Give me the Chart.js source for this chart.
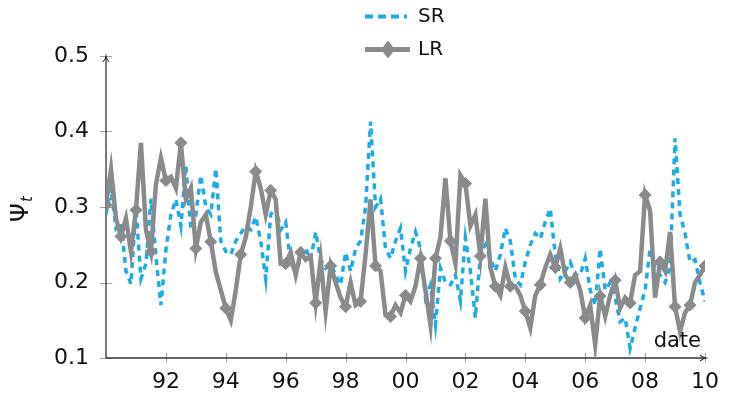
<!DOCTYPE html>
<html>
<head>
<meta charset="utf-8">
<script src="https://cdn.jsdelivr.net/npm/chart.js@4"></script>
<style>
  html, body { margin: 0; padding: 0; background: #fff; }
  canvas { display: block; }
</style>
</head>
<body>
<canvas id="chart" width="730" height="398"></canvas>
<script>
// sampling grid: every two months, 1990 to 2010
const dates = Array.from({ length: 121 }, (_, i) => 1990 + i / 6);

const srValues = [
  0.290, 0.325, 0.272, 0.280, 0.215, 0.198,
  0.300, 0.205, 0.225, 0.311, 0.235, 0.170,
  0.243, 0.290, 0.310, 0.275, 0.355, 0.270,
  0.290, 0.342, 0.300, 0.290, 0.351, 0.255,
  0.241, 0.237, 0.255, 0.265, 0.275, 0.270,
  0.287, 0.255, 0.205, 0.290, 0.300, 0.270,
  0.280, 0.225, 0.215, 0.230, 0.245, 0.230,
  0.267, 0.230, 0.219, 0.225, 0.210, 0.197,
  0.240, 0.215, 0.245, 0.255, 0.300, 0.413,
  0.300, 0.311, 0.245, 0.232, 0.255, 0.272,
  0.215, 0.245, 0.267, 0.245, 0.180, 0.197,
  0.144, 0.219, 0.200, 0.197, 0.210, 0.176,
  0.259, 0.215, 0.153, 0.237, 0.250, 0.232,
  0.215, 0.237, 0.272, 0.255, 0.205, 0.197,
  0.227, 0.250, 0.265, 0.258, 0.280, 0.298,
  0.237, 0.205, 0.215, 0.227, 0.210, 0.210,
  0.232, 0.190, 0.170, 0.245, 0.190, 0.200,
  0.180, 0.148, 0.153, 0.113, 0.140, 0.166,
  0.190, 0.245, 0.219, 0.210, 0.200, 0.220,
  0.391, 0.290, 0.265, 0.227, 0.230, 0.200,
  0.175
];

const lrValues = [
  0.303, 0.350, 0.285, 0.261, 0.285, 0.241,
  0.296, 0.385, 0.270, 0.241, 0.330, 0.365,
  0.335, 0.340, 0.325, 0.385, 0.310, 0.325,
  0.245, 0.280, 0.290, 0.254, 0.214, 0.190,
  0.166, 0.150, 0.190, 0.237, 0.260, 0.300,
  0.347, 0.325, 0.290, 0.322, 0.310, 0.225,
  0.225, 0.240, 0.210, 0.240, 0.230, 0.235,
  0.173, 0.230, 0.162, 0.222, 0.200, 0.180,
  0.168, 0.200, 0.170, 0.175, 0.237, 0.310,
  0.222, 0.215, 0.157, 0.155, 0.170, 0.160,
  0.183, 0.175, 0.195, 0.232, 0.190, 0.144,
  0.232, 0.260, 0.338, 0.255, 0.225, 0.342,
  0.331, 0.275, 0.290, 0.235, 0.311, 0.220,
  0.195, 0.183, 0.220, 0.195, 0.195, 0.183,
  0.162, 0.140, 0.183, 0.197, 0.220, 0.237,
  0.220, 0.245, 0.210, 0.200, 0.210, 0.190,
  0.153, 0.170, 0.118, 0.182, 0.155, 0.183,
  0.203, 0.166, 0.180, 0.173, 0.210, 0.215,
  0.316, 0.295, 0.180, 0.227, 0.215, 0.267,
  0.168, 0.135, 0.160, 0.170, 0.200, 0.210,
  0.222
];

const xTicks = [1992, 1994, 1996, 1998, 2000, 2002, 2004, 2006, 2008, 2010];
const yTicks = [0.1, 0.2, 0.3, 0.4, 0.5];

const SR_COLOR = "#1dabe6";
const LR_COLOR = "#898a8c";
const FONT = "DejaVu Sans";

// axis lines with arrows, ticks crossing the axes
const axesPlugin = {
  id: "axes",
  beforeDatasetsDraw(chart) {
    const { ctx, chartArea } = chart;
    const { left, right, top, bottom } = chartArea;
    const xs = chart.scales.x;
    const ys = chart.scales.y;
    ctx.save();

    ctx.strokeStyle = "#a0a0a0";
    ctx.lineWidth = 1;
    xTicks.forEach((v) => {
      const px = Math.round(xs.getPixelForValue(v)) + 0.5;
      ctx.beginPath();
      ctx.moveTo(px, bottom - 5);
      ctx.lineTo(px, bottom + 5);
      ctx.stroke();
    });
    yTicks.forEach((v) => {
      const py = Math.round(ys.getPixelForValue(v)) + 0.5;
      ctx.beginPath();
      ctx.moveTo(left - 6, py);
      ctx.lineTo(left + 6, py);
      ctx.stroke();
    });

    ctx.strokeStyle = "#333";
    ctx.lineWidth = 1.3;
    ctx.beginPath();
    ctx.moveTo(left, bottom);
    ctx.lineTo(left, top);
    ctx.moveTo(left, bottom);
    ctx.lineTo(right + 1, bottom);
    ctx.stroke();

    ctx.lineWidth = 1.1;
    ctx.beginPath();
    ctx.moveTo(left - 3, top + 6);
    ctx.quadraticCurveTo(left - 0.5, top + 3, left, top);
    ctx.quadraticCurveTo(left + 0.5, top + 3, left + 3, top + 6);
    ctx.moveTo(right - 5, bottom - 3);
    ctx.quadraticCurveTo(right - 2, bottom - 0.5, right + 1, bottom);
    ctx.quadraticCurveTo(right - 2, bottom + 0.5, right - 5, bottom + 3);
    ctx.stroke();
    ctx.restore();
  },
  afterDraw(chart) {
    const { ctx } = chart;
    ctx.save();
    ctx.fillStyle = "#111";

    // y title: Psi with subscript t
    ctx.save();
    ctx.translate(28, 222);
    ctx.rotate(-Math.PI / 2);
    ctx.textBaseline = "alphabetic";
    ctx.font = `24px "${FONT}"`;
    ctx.fillText("Ψ", 0, 0);
    const w = ctx.measureText("Ψ").width;
    ctx.font = `italic 15px "${FONT}"`;
    ctx.fillText("t", w + 1, 4);
    ctx.restore();

    // axis label at the end of x axis
    ctx.font = `21px "${FONT}"`;
    ctx.textAlign = "right";
    ctx.textBaseline = "alphabetic";
    ctx.fillText("date", 701, 347);

    // legend, two rows
    ctx.textAlign = "left";
    ctx.textBaseline = "middle";
    ctx.font = `20px "${FONT}"`;
    ctx.strokeStyle = SR_COLOR;
    ctx.lineWidth = 4;
    ctx.setLineDash([8, 5]);
    ctx.beginPath();
    ctx.moveTo(365, 16.5);
    ctx.lineTo(407, 16.5);
    ctx.stroke();
    ctx.setLineDash([]);
    ctx.fillText("SR", 418, 17);

    ctx.strokeStyle = LR_COLOR;
    ctx.lineWidth = 5;
    ctx.beginPath();
    ctx.moveTo(365, 49.5);
    ctx.lineTo(410, 49.5);
    ctx.stroke();
    ctx.fillStyle = LR_COLOR;
    ctx.beginPath();
    ctx.moveTo(388, 40.5);
    ctx.lineTo(395, 49.5);
    ctx.lineTo(388, 58.5);
    ctx.lineTo(381, 49.5);
    ctx.closePath();
    ctx.fill();
    ctx.fillStyle = "#111";
    ctx.fillText("LR", 418, 50);
    ctx.restore();
  }
};

new Chart(document.getElementById("chart"), {
  type: "line",
  data: {
    datasets: [
      {
        label: "LR",
        data: dates.map((d, i) => ({ x: d, y: lrValues[i] })),
        borderColor: LR_COLOR,
        backgroundColor: LR_COLOR,
        borderWidth: 4.5,
        pointStyle: "rectRot",
        pointRadius: (c) => (c.dataIndex % 3 === 0 ? 6 : 0),
        pointBorderWidth: 1,
        tension: 0,
        order: 1
      },
      {
        label: "SR",
        data: dates.map((d, i) => ({ x: d, y: srValues[i] })),
        borderColor: SR_COLOR,
        borderWidth: 3.5,
        borderDash: [6, 5],
        pointRadius: 0,
        tension: 0,
        order: 2
      }
    ]
  },
  options: {
    responsive: false,
    animation: false,
    events: [],
    layout: { padding: { top: 56, right: 20, left: 0, bottom: 0 } },
    plugins: {
      legend: { display: false },
      tooltip: { enabled: false }
    },
    scales: {
      x: {
        type: "linear",
        min: 1990,
        max: 2010,
        grid: { display: false, drawTicks: false },
        border: { display: false },
        ticks: {
          stepSize: 2,
          padding: 11,
          maxRotation: 0,
          autoSkip: false,
          color: "#111",
          font: { family: FONT, size: 22 },
          callback: (v) => (v === 1990 ? "" : String(v % 100).padStart(2, "0"))
        },
        afterFit: (s) => { s.height = 40; }
      },
      y: {
        min: 0.1,
        max: 0.5,
        grid: { display: false, drawTicks: false },
        border: { display: false },
        ticks: {
          stepSize: 0.1,
          padding: 17,
          color: "#111",
          font: { family: FONT, size: 22 },
          callback: (v) => v.toFixed(1)
        },
        afterFit: (s) => { s.width = 106; }
      }
    }
  },
  plugins: [axesPlugin]
});
</script>
</body>
</html>
